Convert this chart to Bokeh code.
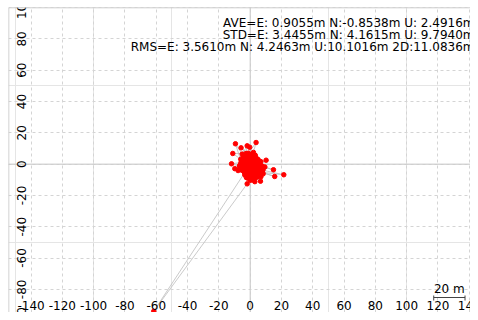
import math
from bokeh.plotting import figure
from bokeh.models import Range1d, Grid, SingleIntervalTicker, Span, ColumnDataSource
from bokeh.core.properties import value
from bokeh.embed import file_html
from bokeh.resources import INLINE

# ---- data (east / north offsets in metres, in track order) ----
east = [0.5, 1.8, -0.7, 2.6, -1.9, 0.2, 3.1, -2.8, 1.1, -0.4, 4.2, -3.5, 2.0, 0.9,
        -1.6, 3.7, -2.2, 4.8, -4.1, 1.4, 5.3, -0.9, 2.9, -3.3, 0.0, 6.0, -4.6, 3.9,
        -1.2, 4.5, -5.2, 1.7, 6.4, -2.7, 2.3, -5.9, 5.1, 0.6, -3.8, 7.2, -1.1, 3.4,
        -6.3, 6.8, -4.4, 1.0, 5.7, -2.4, -9.4, -5.1, -1.9, -3.0, 3.8, 2.1, -0.3, 1.5,
        -5.8, -2.6, -11.1, -6.0, -4.8, -11.9, -6.8, -3.5, -61.6, -1.9, 0.4, 2.2, 4.1,
        10.2, 6.1, 3.0, 8.3, 5.5, 15.7, 7.9, 21.5, 8.1, 4.6, 6.6, 3.2, 0.8, -0.6, 1.3,
        2.7, -2.1, -7.7, -4.0, -1.4, 0.1, 2.4, 3.6, 5.0, 1.9, -0.8, -2.9, -1.5, 0.7,
        2.8, 4.4, 3.3, 1.2, -0.2, -3.9, -2.3, 0.3, 1.6, 3.5, 5.8, 7.0, 4.9, 2.5, 0.9,
        -1.0, -2.5, -4.3, -3.1, -1.7, 0.6, 2.1, 3.9, 6.2, 7.6, 5.4, 3.1, 1.4, -0.5,
        -1.8, -3.6, -5.5, -4.9, -2.0, 0.2, 1.8, 4.0, 6.5, 8.8, 14.9, 9.4, 5.2, 2.6,
        -2.2, 0.0, 1.1, 3.0, 4.7, 2.0, -0.9, -2.6, -1.3, 0.8, 2.3, 1.0, -9.8, -6.6,
        -3.2, -0.7, 1.7, 4.3, 2.9, 0.4, -4.7, -2.9, 0.9, 3.6, 5.9, 1.3, -1.6,
        -3.4, 2.4, 4.9, 0.1, -5.3, -0.4, 3.8, 6.9, 2.0, -2.0, 0.5]
north = [-1.2, 0.4, -2.5, -1.9, 0.8, 1.9, 0.9, -1.1, -3.4, 3.0, -0.6, 1.7, 2.8, -4.6,
         -3.8, -3.1, 3.6, 1.8, -0.4, 4.1, -2.4, -5.7, -5.2, -2.9, 5.2, 0.3, 2.9, 3.9,
         -7.1, -4.4, -1.8, 6.3, -3.7, 5.5, -6.9, 0.9, 2.9, -8.3, -4.9, -1.2, 7.0, -7.9,
         -3.1, 1.6, 4.8, -9.5, -6.1, -8.6, 13.0, 6.4, 11.7, 4.2, 13.8, 7.5, 10.8, 5.0,
         10.4, 6.8, 6.8, 3.1, 1.2, 0.2, -1.4, -5.5, -94.0, -12.6, -9.9, -7.6, -4.0,
         2.5, 0.6, -2.2, -6.2, -4.8, -7.9, -5.3, -6.8, -3.9, -6.5, -10.9, -8.8, -6.4,
         -3.6, -0.9, 1.3, -1.6, -4.1, -2.3, -0.2, 2.2, 4.4, 1.0, -1.5, -3.0, -5.0,
         -6.6, -2.8, -0.5, 1.5, 3.1, 5.6, 4.7, 2.6, 0.1, -2.0, -4.2, -6.3, -8.1, -5.9,
         -3.3, -1.0, 1.1, 3.4, 4.6, 2.4, 0.5, -2.7, -4.5, -7.3, -9.2, -5.6, -3.5,
         -1.3, 0.7, 2.0, 3.8, 6.0, 4.1, 1.4, -1.9, -3.8, -5.2, -7.7, -9.0, -7.4, -4.6,
         -2.1, -3.6, -1.8, -4.3, -5.8, -7.0, -10.3, -9.6, -11.2, -8.0, -6.7, -4.9,
         -3.2, -1.1, 0.9, -2.4, -5.1, -2.9, -0.8, 1.8, 3.3, 0.0, -2.0, 1.2, -0.6,
         -2.6, -5.9, -7.4, -8.6, -5.0, -10.1, -8.9, -6.9, -3.0, -1.8, 0.4, -3.9, -4.5,
         -2.6, -8.0, 2.7, -4.9]

x_ticks = [-140, -120, -100, -80, -60, -40, -20, 0, 20, 40, 60, 80, 100, 120, 140]
y_ticks = [-100, -80, -60, -40, -20, 0, 20, 40, 60, 80, 100]
x_tick_labels = [str(v) for v in x_ticks]
y_tick_labels = [str(v) for v in y_ticks]

stats_lines = [
    "AVE=E: 0.9055m N:-0.8538m U: 2.4916m",
    "STD=E: 3.4455m N: 4.1615m U: 9.7940m",
    "RMS=E: 3.5610m N: 4.2463m U:10.1016m 2D:11.0836m",
]
scale_len = 20
scale_label = "20 m"

# ---- figure ----
W, H = 470, 312
ML, MT = 8, 7
X0, X1 = -154.4, 140.8
Y0, Y1 = -94.8, 100.06
px_per_m = (H - MT) / (Y1 - Y0)

p = figure(width=W, height=H, x_range=Range1d(X0, X1), y_range=Range1d(Y0, Y1),
           output_backend="svg", toolbar_location=None,
           min_border_left=ML, min_border_top=MT, min_border_right=0, min_border_bottom=0,
           x_axis_location=None, y_axis_location=None)
p.background_fill_color = "white"
p.border_fill_color = "white"
p.outline_line_color = None

for dim in (0, 1):
    g = Grid(dimension=dim, ticker=SingleIntervalTicker(interval=20),
             grid_line_color="#d4d4d4", grid_line_dash="3 3", grid_line_width=1)
    p.add_layout(g)

p.add_layout(Span(location=0, dimension="height", line_color="#cccccc", line_width=1,
                  level="underlay"))
p.add_layout(Span(location=0, dimension="width", line_color="#cccccc", line_width=1,
                  level="underlay"))
# frame lines (left and top)
p.add_layout(Span(location=X0, dimension="height", line_color="#c4c4c4", line_width=1.5))
p.add_layout(Span(location=Y1, dimension="width", line_color="#c4c4c4", line_width=1.5))

src = ColumnDataSource(dict(e=east, n=north))
p.line("e", "n", source=src, line_color="#bdbdbd", line_width=0.8)
p.scatter("e", "n", source=src, size=4.5, fill_color="#ff0000", line_color="#ff0000")

font = value("DejaVu Sans")

# x tick labels along the bottom, inside the frame
p.text(x=x_ticks, y=[Y0] * len(x_ticks), text=x_tick_labels, text_font=font,
       text_font_size="12px", text_align="center", text_baseline="middle",
       y_offset=-7, text_color="black")

# y tick labels along the left, rotated
p.text(x=[X0] * len(y_ticks), y=y_ticks, text=y_tick_labels, text_font=font,
       text_font_size="12px", text_align="center", text_baseline="middle",
       angle=math.pi / 2, x_offset=13, text_color="black")

# statistics text, top right
p.text(x=[X1] * 3, y=[Y1] * 3, text=stats_lines, text_font=font,
       text_font_size="12px", text_align="right", text_baseline="middle",
       x_offset=4, y_offset=[15.5, 27.5, 39], text_color="black")

# scale bar, bottom right
sb_right = X1 - 3.5
sb_left = sb_right - scale_len
sb_y = Y0 + 15 / px_per_m
tick_h = 2 / px_per_m
p.segment(x0=[sb_left], y0=[sb_y], x1=[sb_right], y1=[sb_y],
          line_color="#444444", line_width=1)
p.segment(x0=[sb_left, sb_right], y0=[sb_y + tick_h] * 2, x1=[sb_left, sb_right],
          y1=[sb_y - tick_h * 1.5] * 2, line_color="#444444", line_width=1)
p.text(x=[(sb_left + sb_right) / 2], y=[sb_y], text=[scale_label], text_font=font,
       text_font_size="12px", text_align="center", text_baseline="middle",
       y_offset=-9, text_color="black")

open("out.html", "w").write(file_html(p, INLINE))
